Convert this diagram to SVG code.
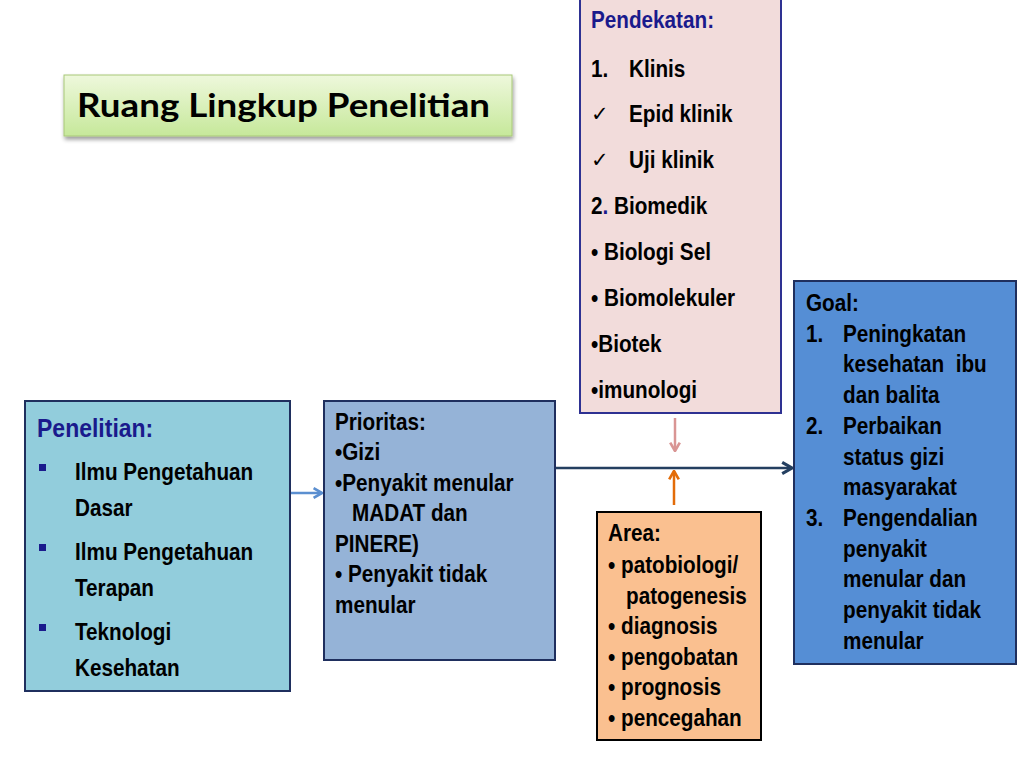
<svg xmlns="http://www.w3.org/2000/svg" width="1024" height="768" viewBox="0 0 1024 768">
<defs>
<linearGradient id="gTitle" x1="0" y1="0" x2="0" y2="1">
<stop offset="0" stop-color="#eef8dc"/>
<stop offset="1" stop-color="#c6e89a"/>
</linearGradient>
<filter id="sh" x="-10%" y="-20%" width="120%" height="150%">
<feGaussianBlur in="SourceAlpha" stdDeviation="2"/>
<feOffset dx="1" dy="3" result="b"/>
<feComponentTransfer><feFuncA type="linear" slope="0.4"/></feComponentTransfer>
<feMerge><feMergeNode/><feMergeNode in="SourceGraphic"/></feMerge>
</filter>
<marker id="chevB" viewBox="0 0 10 10" refX="9" refY="5" markerWidth="12" markerHeight="12" markerUnits="userSpaceOnUse" orient="auto">
<path d="M2,1 L9,5 L2,9" fill="none" stroke="#5b8fd0" stroke-width="2.2"/>
</marker>
<marker id="chevP" viewBox="0 0 10 10" refX="9" refY="5" markerWidth="12" markerHeight="12" markerUnits="userSpaceOnUse" orient="auto">
<path d="M2,1 L9,5 L2,9" fill="none" stroke="#d99594" stroke-width="2.2"/>
</marker>
<marker id="chevO" viewBox="0 0 10 10" refX="9" refY="5" markerWidth="12" markerHeight="12" markerUnits="userSpaceOnUse" orient="auto">
<path d="M2,1 L9,5 L2,9" fill="none" stroke="#e36c09" stroke-width="2.2"/>
</marker>
<marker id="chevN" viewBox="0 0 10 10" refX="9" refY="5" markerWidth="14" markerHeight="14" markerUnits="userSpaceOnUse" orient="auto">
<path d="M2,1 L9,5 L2,9" fill="none" stroke="#243f60" stroke-width="2.2"/>
</marker>
</defs>
<style>
text{font-family:"Liberation Sans",Arial,sans-serif;font-weight:bold;font-size:23px;fill:#000}
.hd{fill:#1a1a8c}
.big{font-size:25px}
.title{font-family:Lato,"Open Sans",sans-serif;font-size:33px;fill:#000}
.box{stroke:#1f2f5e;stroke-width:2}
.ck{font-weight:normal;font-family:"DejaVu Sans",sans-serif;font-size:21px}
</style>
<rect width="1024" height="768" fill="#fff"/>

<g id="title">
<rect x="64" y="75" width="448" height="61" fill="url(#gTitle)" stroke="#a8c878" stroke-width="1" filter="url(#sh)"/>
<text class="title" x="77" y="117" textLength="413" lengthAdjust="spacingAndGlyphs">Ruang Lingkup Penelitian</text>
</g>

<g id="connectors" fill="none">
<line x1="291" y1="493" x2="322" y2="493" stroke="#5b8fd0" stroke-width="2.5" marker-end="url(#chevB)"/>
<line x1="555" y1="468" x2="792" y2="468" stroke="#243f60" stroke-width="2.5" marker-end="url(#chevN)"/>
<line x1="675" y1="418" x2="675" y2="451" stroke="#d99594" stroke-width="2.5" marker-end="url(#chevP)"/>
<line x1="674" y1="505" x2="674" y2="471" stroke="#e36c09" stroke-width="2.5" marker-end="url(#chevO)"/>
</g>

<g id="penelitian">
<rect class="box" x="25" y="401" width="265" height="290" fill="#92cddc"/>
<text class="hd big" transform="translate(37 437) scale(0.92 1)">Penelitian:</text>
<rect x="39" y="464" width="7" height="7" fill="#1a1a8c"/>
<rect x="39" y="544" width="7" height="7" fill="#1a1a8c"/>
<rect x="39" y="624" width="7" height="7" fill="#1a1a8c"/>
<text transform="translate(75 480) scale(0.9 1)">Ilmu Pengetahuan</text>
<text transform="translate(75 516) scale(0.9 1)">Dasar</text>
<text transform="translate(75 560) scale(0.9 1)">Ilmu Pengetahuan</text>
<text transform="translate(75 596) scale(0.9 1)">Terapan</text>
<text transform="translate(75 640) scale(0.9 1)">Teknologi</text>
<text transform="translate(75 676) scale(0.9 1)">Kesehatan</text>
</g>

<g id="prioritas">
<rect class="box" x="324" y="401" width="231" height="259" fill="#95b3d7"/>
<text transform="translate(335 430) scale(0.9 1)">Prioritas:</text>
<text transform="translate(335 460) scale(0.9 1)">•Gizi</text>
<text transform="translate(335 491) scale(0.9 1)">•Penyakit menular</text>
<text transform="translate(352 521) scale(0.9 1)">MADAT dan</text>
<text transform="translate(335 552) scale(0.9 1)">PINERE)</text>
<text transform="translate(335 582) scale(0.9 1)">• Penyakit tidak</text>
<text transform="translate(335 613) scale(0.9 1)">menular</text>
</g>

<g id="pendekatan">
<rect x="580" y="-2" width="201" height="415" fill="#f2dcdb" stroke="#2e3192" stroke-width="2"/>
<text class="hd" transform="translate(591 28) scale(0.9 1)">Pendekatan:</text>
<text transform="translate(591 77) scale(0.9 1)">1.</text>
<text transform="translate(629 77) scale(0.9 1)">Klinis</text>
<text class="ck" x="591" y="121">✓</text>
<text transform="translate(629 122) scale(0.9 1)">Epid klinik</text>
<text class="ck" x="591" y="167">✓</text>
<text transform="translate(629 168) scale(0.9 1)">Uji klinik</text>
<text transform="translate(591 214) scale(0.9 1)">2<tspan fill="#1a1a8c">.</tspan> Biomedik</text>
<text transform="translate(591 260) scale(0.9 1)">• Biologi Sel</text>
<text transform="translate(591 306) scale(0.9 1)">• Biomolekuler</text>
<text transform="translate(591 352) scale(0.9 1)">•Biotek</text>
<text transform="translate(591 398) scale(0.9 1)">•imunologi</text>
</g>

<g id="area">
<rect x="597" y="512" width="164" height="228" fill="#fac090" stroke="#000" stroke-width="2"/>
<text transform="translate(608 541) scale(0.9 1)">Area:</text>
<text transform="translate(608 573) scale(0.9 1)">• patobiologi/</text>
<text transform="translate(626 604) scale(0.9 1)">patogenesis</text>
<text transform="translate(608 634) scale(0.9 1)">• diagnosis</text>
<text transform="translate(608 665) scale(0.9 1)">• pengobatan</text>
<text transform="translate(608 695) scale(0.9 1)">• prognosis</text>
<text transform="translate(608 726) scale(0.9 1)">• pencegahan</text>
</g>

<g id="goal">
<rect class="box" x="794" y="281" width="222" height="383" fill="#558ed5"/>
<text transform="translate(806 311) scale(0.9 1)">Goal:</text>
<text transform="translate(806 342) scale(0.9 1)">1.</text>
<text transform="translate(843 342) scale(0.9 1)">Peningkatan</text>
<text transform="translate(843 372) scale(0.9 1)" xml:space="preserve">kesehatan  ibu</text>
<text transform="translate(843 403) scale(0.9 1)">dan balita</text>
<text transform="translate(806 434) scale(0.9 1)">2.</text>
<text transform="translate(843 434) scale(0.9 1)">Perbaikan</text>
<text transform="translate(843 465) scale(0.9 1)">status gizi</text>
<text transform="translate(843 495) scale(0.9 1)">masyarakat</text>
<text transform="translate(806 526) scale(0.9 1)">3.</text>
<text transform="translate(843 526) scale(0.9 1)">Pengendalian</text>
<text transform="translate(843 557) scale(0.9 1)">penyakit</text>
<text transform="translate(843 587) scale(0.9 1)">menular dan</text>
<text transform="translate(843 618) scale(0.9 1)">penyakit tidak</text>
<text transform="translate(843 649) scale(0.9 1)">menular</text>
</g>
</svg>
